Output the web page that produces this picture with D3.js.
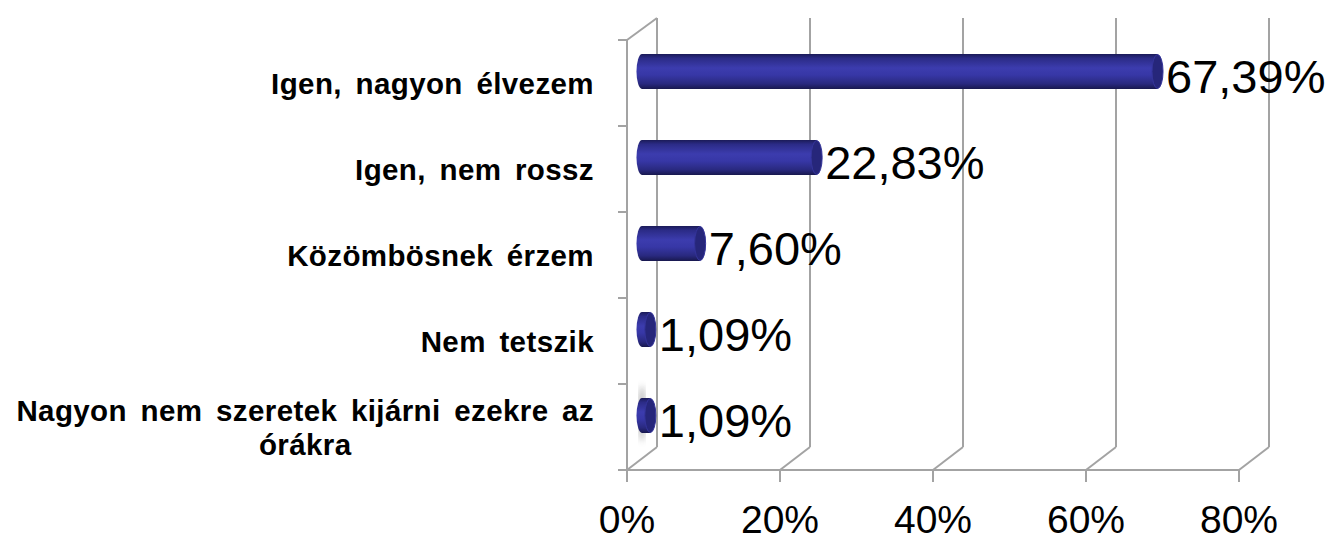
<!DOCTYPE html>
<html>
<head>
<meta charset="utf-8">
<script src="https://cdn.jsdelivr.net/npm/d3@7"></script>
<style>
  body { margin: 0; background: #fff; }
  svg { display: block; }
</style>
</head>
<body>
<div id="chart"></div>
<script>
// categories top to bottom, with their shares
let categories = [
  ["Igen, nagyon élvezem"],
  ["Igen, nem rossz"],
  ["Közömbösnek érzem"],
  ["Nem tetszik"],
  ["Nagyon nem szeretek kijárni ezekre az", "órákra"]
];
let values = [0.6739, 0.2283, 0.0760, 0.0109, 0.0109];
let ticks = [0, 0.2, 0.4, 0.6, 0.8];

let width = 1335, height = 542;
let depthX = 30, depthY = -23;   // 3d depth offset of the back wall
let plotTop = 40, plotBottom = 470;
let barH = 35, capRx = 5.5;

let svg = d3.select("#chart").append("svg")
  .attr("width", width).attr("height", height);

let x = d3.scaleLinear().domain([0, 0.8]).range([627, 1239]);
let y = d3.scaleBand().domain(d3.range(categories.length)).range([plotTop, plotBottom]);

let fmt = v => (v * 100).toFixed(2).replace(".", ",") + "%";

// gradients for the cylinders
let defs = svg.append("defs");
let grad = defs.append("linearGradient").attr("id", "cyl")
  .attr("x1", 0).attr("y1", 0).attr("x2", 0).attr("y2", 1);
[["0%", "#1b1b58"], ["12%", "#2b2b86"], ["40%", "#3c3cae"], ["60%", "#3737a6"],
 ["85%", "#29297f"], ["100%", "#18184e"]].forEach(s =>
  grad.append("stop").attr("offset", s[0]).attr("stop-color", s[1]));
defs.append("filter").attr("id", "blur")
  .append("feGaussianBlur").attr("stdDeviation", 3);

let grid = svg.append("g")
  .attr("stroke", "#a3a3a3").attr("stroke-width", 2).attr("fill", "none");

// back wall gridlines
grid.selectAll(".back").data(ticks).enter().append("line")
  .attr("x1", d => x(d) + depthX).attr("x2", d => x(d) + depthX)
  .attr("y1", plotTop + depthY + 1).attr("y2", plotBottom + depthY);

// floor diagonals
grid.selectAll(".floor").data(ticks).enter().append("line")
  .attr("x1", d => x(d)).attr("y1", plotBottom)
  .attr("x2", d => x(d) + depthX).attr("y2", plotBottom + depthY);

// left wall
grid.append("line").attr("x1", x(0)).attr("x2", x(0)).attr("y1", plotTop).attr("y2", plotBottom);
grid.append("line").attr("x1", x(0)).attr("y1", plotTop)
  .attr("x2", x(0) + depthX).attr("y2", plotTop + depthY + 1);

// left wall ticks at band boundaries
let bounds = d3.range(categories.length + 1).map(i => plotTop + i * y.step());
grid.selectAll(".ytick").data(bounds).enter().append("line")
  .attr("x1", x(0) - 9).attr("x2", x(0)).attr("y1", d => d).attr("y2", d => d);

// category axis line and ticks
grid.append("line").attr("x1", x(0) - 9).attr("x2", x(0.8))
  .attr("y1", plotBottom).attr("y2", plotBottom);
grid.selectAll(".xtick").data(ticks).enter().append("line")
  .attr("x1", d => x(d)).attr("x2", d => x(d)).attr("y1", plotBottom).attr("y2", plotBottom + 12);

// x tick labels
svg.selectAll(".xlab").data(ticks).enter().append("text")
  .attr("x", d => x(d)).attr("y", 533)
  .attr("text-anchor", "middle")
  .style("font-family", "Liberation Sans, Arial, sans-serif")
  .style("font-size", "39px").attr("fill", "#000")
  .text(d => Math.round(d * 100) + "%");

// bars as cylinders sitting in the middle of the depth
let midX = depthX / 2, midY = depthY / 2;
let cy = i => y(i) + y.bandwidth() / 2 + midY;
let x0 = x(0) + midX;

// faint shadow next to the last bar
svg.append("ellipse")
  .attr("cx", x0).attr("cy", cy(4) - 2).attr("rx", 3).attr("ry", 28)
  .attr("fill", "#8a8a8a").attr("opacity", 0.7).attr("filter", "url(#blur)");

let bars = svg.selectAll(".bar").data(values).enter().append("g").attr("class", "bar");
bars.append("ellipse")
  .attr("cx", x0).attr("cy", (d, i) => cy(i))
  .attr("rx", capRx).attr("ry", barH / 2).attr("fill", "url(#cyl)");
bars.append("rect")
  .attr("x", x0).attr("y", (d, i) => cy(i) - barH / 2)
  .attr("width", d => x(d) - x(0)).attr("height", barH)
  .attr("fill", "url(#cyl)");
bars.append("ellipse")
  .attr("cx", d => x(d) + midX).attr("cy", (d, i) => cy(i))
  .attr("rx", capRx).attr("ry", barH / 2 - 0.5)
  .attr("fill", "#26267a").attr("stroke", "#34349a").attr("stroke-width", 1);

// value labels
svg.selectAll(".val").data(values).enter().append("text")
  .attr("x", d => x(d) + midX + capRx + 3)
  .attr("y", (d, i) => cy(i) + 21)
  .style("font-family", "Liberation Sans, Arial, sans-serif")
  .style("font-size", "47px").attr("fill", "#000")
  .text(d => fmt(d));

// category labels, right aligned; wrapped lines centred under the first
let labelRight = 594;
function catText(sel) {
  return sel.style("font-family", "Liberation Sans, Arial, sans-serif")
    .style("font-size", "29.5px").style("font-weight", "bold")
    .style("letter-spacing", "0.4px").style("word-spacing", "5px")
    .attr("fill", "#000");
}
categories.forEach(function(lines, i) {
  let c = y(i) + y.bandwidth() / 2;
  let lh = 34;
  let first = c + 11 - (lines.length - 1) * lh / 2;
  let t = catText(svg.append("text"))
    .attr("x", labelRight).attr("y", first)
    .attr("text-anchor", "end").text(lines[0]);
  if (lines.length > 1) {
    let w = t.node().getComputedTextLength();
    for (let k = 1; k < lines.length; k++) {
      catText(svg.append("text"))
        .attr("x", labelRight - w / 2).attr("y", first + k * lh)
        .attr("text-anchor", "middle").text(lines[k]);
    }
  }
});
</script>
</body>
</html>
